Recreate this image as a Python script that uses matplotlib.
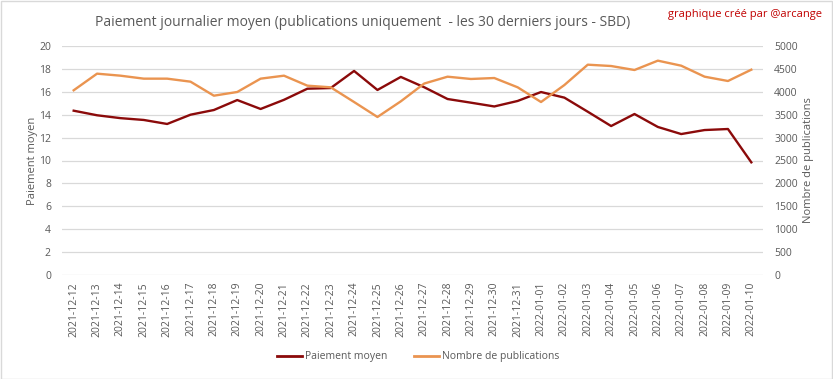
import matplotlib
matplotlib.use("Agg")
import matplotlib.pyplot as plt
from matplotlib.patches import Rectangle
from matplotlib.lines import Line2D

dates = ["2021-12-12", "2021-12-13", "2021-12-14", "2021-12-15", "2021-12-16", "2021-12-17",
         "2021-12-18", "2021-12-19", "2021-12-20", "2021-12-21", "2021-12-22", "2021-12-23",
         "2021-12-24", "2021-12-25", "2021-12-26", "2021-12-27", "2021-12-28", "2021-12-29",
         "2021-12-30", "2021-12-31", "2022-01-01", "2022-01-02", "2022-01-03", "2022-01-04",
         "2022-01-05", "2022-01-06", "2022-01-07", "2022-01-08", "2022-01-09", "2022-01-10"]
paiement = [14.35, 13.95, 13.7, 13.54, 13.19, 14.0, 14.41, 15.28, 14.5, 15.3, 16.27, 16.33,
            17.82, 16.16, 17.3, 16.4, 15.37, 15.05, 14.72, 15.2, 15.98, 15.49, 14.26, 13.01,
            14.06, 12.93, 12.31, 12.66, 12.75, 9.84]
publications = [4033, 4396, 4352, 4287, 4287, 4221, 3915, 3996, 4287, 4352, 4134, 4098,
                3777, 3450, 3792, 4180, 4330, 4280, 4301, 4098, 3777, 4148, 4592, 4563,
                4476, 4680, 4570, 4330, 4236, 4483]

W, H = 833, 379
fig = plt.figure(figsize=(W / 100, H / 100), dpi=100)
plt.rcParams['font.family'] = ['Open Sans', 'DejaVu Sans']
gray = "#595959"
red = "#8B0A0A"
orange = "#EA9450"

fig.patches.append(Rectangle((0.5 / W, 0.5 / H), 1 - 1.5 / W, 1 - 1.5 / H, transform=fig.transFigure,
                             fill=False, edgecolor="#D9D9D9", linewidth=1))

left, right, top, bottom = 62, 763, 46, 275
ax = fig.add_axes([left / W, 1 - bottom / H, (right - left) / W, (bottom - top) / H])
ax2 = ax.twinx()

x = list(range(len(dates)))
ax.plot(x, paiement, color=red, linewidth=1.7, zorder=3)
ax2.plot(x, publications, color=orange, linewidth=1.7, zorder=3)

ax.set_xlim(-0.5, len(dates) - 0.5)
ax.set_ylim(0, 20)
ax2.set_ylim(0, 5000)
ax.set_yticks(range(0, 21, 2))
ax2.set_yticks(range(0, 5001, 500))
ax.set_xticks(x)
ax.set_xticklabels(dates, rotation=90, fontsize=7.5, color=gray)
ax.grid(axis="y", color="#D9D9D9", linewidth=0.9)
ax.set_axisbelow(True)
for a in (ax, ax2):
    for s in a.spines.values():
        s.set_visible(False)
    a.tick_params(length=0, colors=gray, labelsize=7.5)
ax.tick_params(axis="y", pad=8)
ax2.tick_params(axis="y", pad=8)
ax.tick_params(axis="x", pad=5)

ax.set_ylabel("Paiement moyen", color=gray, fontsize=8, labelpad=1)
ax2.set_ylabel("Nombre de publications", color=gray, fontsize=8, labelpad=4)

fig.text(363 / W, 1 - 22 / H, "Paiement journalier moyen (publications uniquement  - les 30 derniers jours - SBD)",
         ha="center", va="center", fontsize=10, color=gray)
fig.text(822 / W, 1 - 15 / H, "graphique créé par @arcange", ha="right", va="center",
         fontsize=8, color="#C00000")

handles = [Line2D([], [], color=red, linewidth=2), Line2D([], [], color=orange, linewidth=2)]
fig.legend(handles, ["Paiement moyen", "Nombre de publications"], loc="center",
           bbox_to_anchor=(418 / W, 1 - 357 / H), ncol=2, frameon=False, fontsize=7.5,
           handlelength=2.4, handletextpad=0.3, columnspacing=2.5, labelcolor=gray)

fig.savefig("out.png", dpi=100)
